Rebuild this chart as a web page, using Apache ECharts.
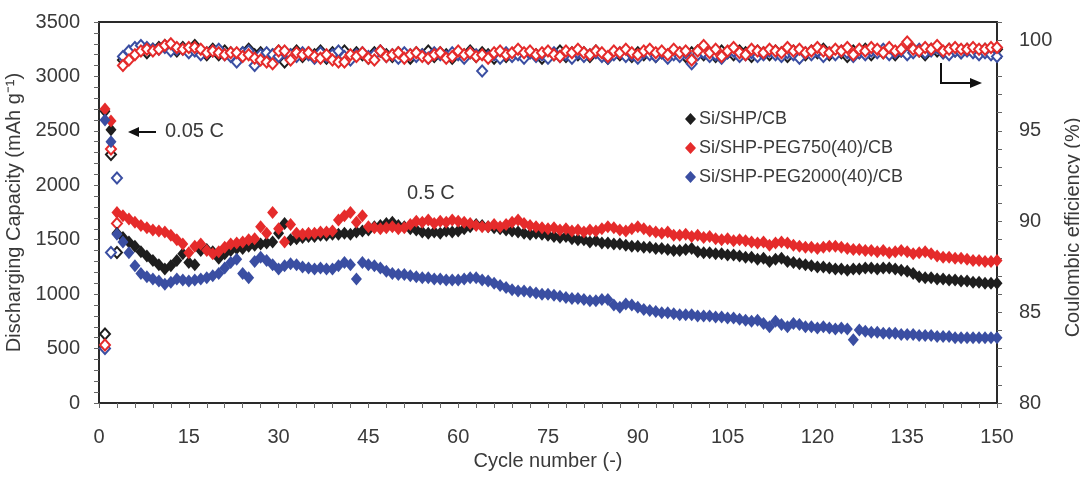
<!DOCTYPE html>
<html>
<head>
<meta charset="utf-8">
<script src="https://cdn.jsdelivr.net/npm/echarts@6/dist/echarts.min.js"></script>
<style>html,body{margin:0;padding:0;background:#fff;}#c{width:1080px;height:478px;}</style>
</head>
<body>
<div id="c"></div>
<script>
const seriesNames = ['Si/SHP/CB', 'Si/SHP-PEG750(40)/CB', 'Si/SHP-PEG2000(40)/CB'];
const xTicks = [0, 15, 30, 45, 60, 75, 90, 105, 120, 135, 150];

// Discharging capacity (mAh/g), cycles 1..150
const capBlack = [
2680,2510,1560,1520,1480,1440,1390,1350,1310,1270,
1230,1260,1310,1370,1290,1270,1400,1410,1390,1330,
1370,1400,1420,1420,1440,1450,1460,1470,1480,1560,
1650,1500,1510,1520,1530,1530,1540,1540,1550,1550,
1560,1550,1570,1580,1590,1620,1630,1650,1660,1630,
1620,1600,1590,1570,1560,1570,1560,1580,1570,1580,
1600,1620,1640,1630,1620,1610,1600,1590,1580,1570,
1560,1550,1560,1550,1540,1530,1520,1530,1510,1500,
1500,1480,1490,1470,1470,1460,1460,1450,1440,1440,
1430,1430,1420,1420,1410,1400,1400,1410,1420,1390,
1380,1380,1370,1370,1360,1360,1350,1340,1340,1320,
1330,1300,1320,1330,1300,1290,1280,1270,1260,1250,
1250,1240,1230,1230,1220,1230,1230,1240,1240,1230,
1240,1240,1230,1220,1210,1190,1160,1150,1150,1140,
1140,1130,1130,1120,1120,1110,1110,1100,1100,1100];
const capRed = [
2700,2590,1750,1720,1690,1660,1630,1610,1590,1580,
1570,1540,1500,1460,1380,1440,1460,1400,1370,1390,
1430,1460,1470,1480,1500,1510,1620,1560,1750,1600,
1480,1640,1560,1550,1560,1560,1570,1570,1580,1680,
1720,1750,1660,1720,1620,1610,1600,1610,1620,1600,
1610,1640,1670,1660,1680,1650,1670,1660,1680,1670,
1660,1650,1630,1620,1620,1640,1620,1640,1660,1680,
1650,1630,1620,1610,1600,1610,1590,1600,1580,1590,
1570,1590,1580,1600,1620,1610,1590,1580,1600,1620,
1600,1580,1570,1560,1570,1540,1540,1550,1530,1540,
1520,1530,1510,1500,1510,1490,1500,1490,1480,1470,
1480,1450,1470,1480,1470,1450,1440,1430,1430,1420,
1430,1440,1440,1430,1420,1410,1410,1400,1400,1390,
1400,1380,1390,1400,1390,1370,1380,1390,1370,1350,
1340,1340,1330,1330,1320,1310,1310,1300,1300,1310];
const capBlue = [
2600,2400,1550,1480,1380,1260,1190,1160,1140,1120,
1090,1110,1140,1130,1120,1130,1140,1150,1170,1190,
1240,1290,1320,1190,1150,1300,1340,1310,1270,1230,
1260,1280,1270,1250,1240,1230,1240,1230,1230,1260,
1290,1270,1140,1290,1270,1260,1240,1210,1190,1180,
1180,1170,1160,1150,1150,1140,1140,1130,1130,1130,
1140,1150,1150,1130,1120,1100,1080,1060,1040,1030,
1030,1020,1010,1000,1000,990,980,970,960,960,
950,940,940,950,950,900,880,910,900,880,
860,850,840,830,830,820,810,810,810,800,
800,800,790,790,780,780,770,760,750,760,
730,700,750,720,700,730,720,700,700,690,
700,690,680,690,680,580,670,660,650,650,
640,640,640,630,630,630,620,620,620,610,
610,610,600,600,600,600,600,600,600,600];

// Coulombic efficiency (%), cycles 1..150
const ceBlack = [83.8,93.7,88.3,
98.9,99.2,99.4,99.5,99.3,99.5,99.6,99.7,99.5,99.4,99.6,99.5,99.7,99.4,99.2,99.5,99.2,99.4,99.3,99.1,99.3,99.5,99.2,99.3,98.9,99.2,99.4,98.8,99.2,99.4,
99.1,99.3,99.2,99.4,99.0,99.3,99.2,99.4,99.1,99.3,99.2,99.0,99.3,99.4,99.2,99.1,99.3,99.2,99.0,99.3,
99.2,99.4,99.1,99.3,99.2,99.0,99.3,99.2,99.4,99.1,99.3,99.2,99.0,99.3,99.1,99.2,99.4,99.1,99.3,99.2,
99.0,99.3,99.2,99.4,99.1,99.3,99.2,99.3,99.1,99.4,99.2,99.0,99.3,99.2,99.4,99.1,99.3,99.2,99.4,99.1,
99.3,99.2,99.4,99.3,99.1,99.3,99.4,99.2,99.3,99.1,99.4,99.3,99.2,99.4,99.3,99.1,99.4,99.3,99.2,99.4,
99.3,99.1,99.4,99.3,99.2,99.4,99.3,99.5,99.2,99.4,99.3,99.1,99.4,99.3,99.5,99.2,99.4,99.3,99.5,99.2,
99.4,99.3,99.5,99.4,99.2,99.5,99.4,99.3,99.5,99.4,99.3,99.5,99.4,99.3,99.5,99.4,99.5];
const ceRed = [83.2,94.0,89.9,
98.6,98.9,99.2,99.4,99.5,99.4,99.5,99.7,99.8,99.6,99.5,99.6,99.6,99.5,99.3,99.4,99.3,99.2,99.3,99.3,99.1,99.2,99.0,98.9,98.8,98.7,99.4,99.4,98.9,99.3,
99.2,99.3,99.1,99.0,99.2,98.9,98.8,98.8,99.2,99.1,99.3,99.0,98.9,99.4,99.1,99.2,99.3,99.0,99.2,99.3,
99.1,99.0,99.2,99.3,99.0,99.1,99.4,99.2,99.3,99.1,99.2,99.0,99.3,99.4,99.2,99.3,99.5,99.3,99.4,99.2,
99.3,99.4,99.2,99.1,99.4,99.3,99.5,99.3,99.2,99.4,99.3,99.1,99.4,99.3,99.5,99.3,99.2,99.4,99.5,99.3,
99.4,99.2,99.5,99.3,99.4,98.9,99.4,99.7,99.3,99.5,99.1,99.4,99.6,99.3,99.2,99.5,99.4,99.3,99.5,99.4,
99.3,99.6,99.4,99.5,99.3,99.4,99.6,99.4,99.3,99.5,99.4,99.6,99.2,99.5,99.4,99.6,99.5,99.3,99.6,99.4,
99.5,99.9,99.5,99.4,99.6,99.5,99.7,99.4,99.5,99.6,99.5,99.5,99.6,99.5,99.5,99.6,99.6];
const ceBlue = [83.0,88.3,92.4,
99.1,99.4,99.6,99.7,99.6,99.5,99.5,99.6,99.4,99.5,99.5,99.3,99.4,99.2,99.3,99.4,99.5,99.2,99.1,98.8,99.3,99.4,98.6,99.2,99.3,99.2,99.1,99.3,99.2,99.1,
99.3,99.2,99.0,99.3,99.1,99.2,99.4,99.1,98.9,99.2,99.3,99.1,99.2,99.4,99.1,99.2,99.0,99.3,99.2,99.1,
99.2,99.0,99.3,99.2,99.1,99.3,99.2,99.0,99.3,99.2,98.3,99.1,99.2,99.0,99.3,99.1,99.2,99.0,99.3,99.1,
99.2,99.0,99.3,99.1,99.2,99.0,99.3,99.1,99.2,99.3,99.1,99.0,99.2,99.3,99.1,99.2,99.0,99.3,99.2,99.1,
99.3,99.0,99.2,99.1,99.3,98.7,99.2,99.3,99.1,99.2,99.0,99.3,99.4,99.1,99.2,99.3,99.1,99.2,99.4,99.2,
99.1,99.3,99.2,99.0,99.3,99.2,99.4,99.1,99.3,99.2,99.4,99.3,99.1,99.3,99.2,99.4,99.3,99.5,99.2,99.3,
99.4,99.2,99.3,99.5,99.3,99.4,99.6,99.3,99.2,99.4,99.3,99.4,99.3,99.2,99.3,99.2,99.1];

const cycles = capBlack.map((_, i) => i + 1);
const pair = arr => arr.map((v, i) => [cycles[i], v]);

const colors = ['#1e1e1e', '#e52b2b', '#3a4ea2'];
const FONT = '"Liberation Sans", Arial, Helvetica, sans-serif';
const axisCol = '#2a2a2a';
const txtCol = '#3a3a3a';

const chart = echarts.init(document.getElementById('c'), null, {renderer: 'canvas'});

function capSeries(name, data, color) {
  return {name, type: 'scatter', yAxisIndex: 0, data: pair(data), symbol: 'diamond',
    symbolSize: [11, 13], itemStyle: {color, opacity: 1}, z: 3, silent: true};
}
function ceSeries(name, data, color) {
  return {name, type: 'scatter', yAxisIndex: 1, data: pair(data), symbol: 'diamond',
    symbolSize: [10, 11], itemStyle: {color: '#fff', borderColor: color, borderWidth: 2, opacity: 1}, z: 2, silent: true};
}

chart.setOption({
  animation: false,
  backgroundColor: '#fff',
  textStyle: {fontFamily: FONT},
  grid: {left: 99, right: 83, top: 22, bottom: 75, outerBoundsMode: 'none', containLabel: false,
    show: true, borderColor: axisCol, borderWidth: 2, backgroundColor: 'transparent'},
  legend: {
    data: seriesNames, orient: 'vertical', left: 680, top: 105, itemGap: 11,
    icon: 'diamond', itemWidth: 11, itemHeight: 12, selectedMode: false,
    textStyle: {fontSize: 18, color: txtCol, fontFamily: FONT, padding: [0, 0, 0, -2]}
  },
  xAxis: {
    type: 'value', min: 0, max: 150, interval: 15,
    name: 'Cycle number (-)', nameLocation: 'middle', nameGap: 46,
    nameTextStyle: {fontSize: 20, color: txtCol, fontFamily: FONT},
    axisLine: {show: true, lineStyle: {color: axisCol, width: 2}},
    axisTick: {show: true, inside: false, length: 5, lineStyle: {color: '#666', width: 1}},
    minorTick: {show: true, splitNumber: 5, length: 5, lineStyle: {color: '#666', width: 1}},
    axisLabel: {fontSize: 20, color: txtCol, margin: 24, fontFamily: FONT,
      formatter: v => (xTicks.indexOf(v) >= 0 ? String(v) : '')},
    splitLine: {show: false}
  },
  yAxis: [{
    type: 'value', min: 0, max: 3500, interval: 500, position: 'left',
    name: 'Discharging Capacity (mAh g\u207B\u00B9)', nameLocation: 'middle', nameGap: 70,
    nameTextStyle: {fontSize: 20, color: txtCol, fontFamily: FONT},
    axisLine: {show: true, lineStyle: {color: axisCol, width: 2}},
    axisTick: {show: true, inside: false, length: 5, lineStyle: {color: '#666'}},
    minorTick: {show: true, splitNumber: 5, length: 5, lineStyle: {color: '#666'}},
    axisLabel: {fontSize: 20, color: txtCol, margin: 19, fontFamily: FONT, formatter: v => String(v)},
    splitLine: {show: false}
  }, {
    type: 'value', min: 80, max: 101, interval: 5, position: 'right',
    name: 'Coulombic efficiency (%)', nameLocation: 'middle', nameGap: 60,
    nameTextStyle: {fontSize: 20, color: txtCol, fontFamily: FONT, padding: [0, 30, 0, 0]},
    axisLine: {show: true, lineStyle: {color: axisCol, width: 2}},
    axisTick: {show: true, inside: false, length: 5, lineStyle: {color: '#666'}},
    minorTick: {show: true, splitNumber: 5, length: 5, lineStyle: {color: '#666'}},
    axisLabel: {fontSize: 20, color: txtCol, margin: 22, fontFamily: FONT, showMaxLabel: false,
      formatter: v => (v % 5 === 0 ? String(v) : '')},
    splitLine: {show: false}
  }],
  graphic: [
    {type: 'text', left: 165, top: 121, style: {text: '0.05 C', font: '20px ' + FONT, fill: txtCol}},
    {type: 'line', shape: {x1: 156, y1: 132, x2: 136, y2: 132}, style: {stroke: '#111', lineWidth: 2}},
    {type: 'polygon', shape: {points: [[128, 132], [139, 127], [139, 137]]}, style: {fill: '#111'}},
    {type: 'text', left: 407, top: 183, style: {text: '0.5 C', font: '20px ' + FONT, fill: txtCol}},
    {type: 'polyline', shape: {points: [[941, 63], [941, 83], [972, 83]]}, style: {stroke: '#111', lineWidth: 2, fill: null}},
    {type: 'polygon', shape: {points: [[982, 83], [970, 78], [970, 88]]}, style: {fill: '#111'}}
  ],
  series: [
    ceSeries('CE ' + seriesNames[0], ceBlack, colors[0]),
    ceSeries('CE ' + seriesNames[2], ceBlue, colors[2]),
    ceSeries('CE ' + seriesNames[1], ceRed, colors[1]),
    capSeries(seriesNames[0], capBlack, colors[0]),
    capSeries(seriesNames[1], capRed, colors[1]),
    capSeries(seriesNames[2], capBlue, colors[2])
  ]
});
</script>
</body>
</html>
